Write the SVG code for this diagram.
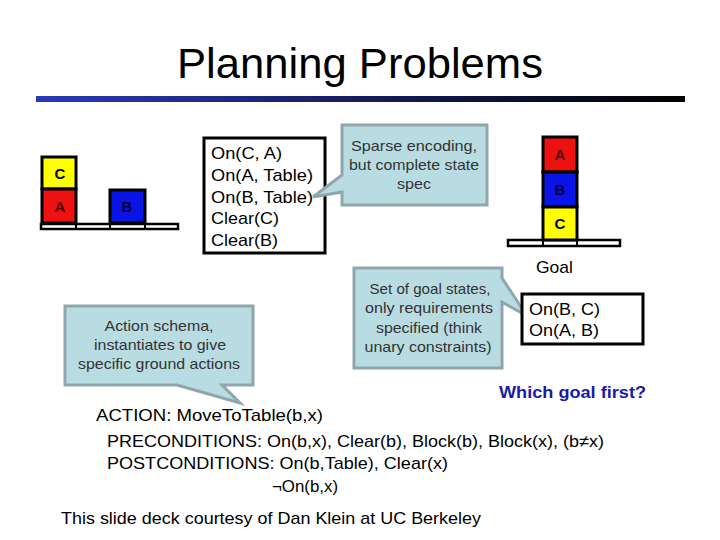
<svg xmlns="http://www.w3.org/2000/svg" width="720" height="540" viewBox="0 0 720 540">
<defs>
<linearGradient id="bar" x1="0" y1="0" x2="1" y2="0">
<stop offset="0" stop-color="#2a3ab8"/>
<stop offset="1" stop-color="#000000"/>
</linearGradient>
<style>
text{font-family:"Liberation Sans",Arial,sans-serif;fill:#000}
.t16{font-size:17px}
.c14{font-size:15px;fill:#333;text-anchor:middle}
.call{fill:#b9dce2;stroke:#8ea6ac;stroke-width:3;stroke-linejoin:miter}
.box{fill:#fff;stroke:#000;stroke-width:3}
.blk{stroke:#000;stroke-width:3}
.lbl{font-size:15px;font-weight:bold;text-anchor:middle}
.tbl{fill:#fff;stroke:#000;stroke-width:2.5}
</style>
</defs>
<rect width="720" height="540" fill="#fff"/>
<g id="title">
<text x="177" y="78" font-size="42" textLength="366" lengthAdjust="spacingAndGlyphs">Planning Problems</text>
<rect x="36" y="96" width="649" height="6" fill="url(#bar)"/>
</g>
<g id="start-state">
<rect class="tbl" x="41" y="224" width="137" height="5"/>
<line x1="76" y1="224" x2="76" y2="229" stroke="#000" stroke-width="2"/>
<line x1="110" y1="224" x2="110" y2="229" stroke="#000" stroke-width="2"/>
<line x1="145" y1="224" x2="145" y2="229" stroke="#000" stroke-width="2"/>
<rect class="blk" x="42" y="157" width="34" height="32" fill="#ffff00"/>
<rect class="blk" x="42" y="189" width="34" height="34" fill="#ee1111"/>
<rect class="blk" x="110" y="190" width="35" height="33" fill="#0a14e6"/>
<text class="lbl" x="60" y="179">C</text>
<text class="lbl" x="60" y="212" style="fill:#4a0000">A</text>
<text class="lbl" x="127" y="212" style="fill:#00003a">B</text>
</g>
<g id="state-box">
<rect class="box" x="204" y="138" width="121" height="115"/>
<text class="t16" x="211" y="159" textLength="71" lengthAdjust="spacingAndGlyphs">On(C, A)</text>
<text class="t16" x="211" y="181" textLength="102" lengthAdjust="spacingAndGlyphs">On(A, Table)</text>
<text class="t16" x="211" y="203" textLength="102" lengthAdjust="spacingAndGlyphs">On(B, Table)</text>
<text class="t16" x="211" y="224" textLength="68" lengthAdjust="spacingAndGlyphs">Clear(C)</text>
<text class="t16" x="211" y="246" textLength="67" lengthAdjust="spacingAndGlyphs">Clear(B)</text>
</g>
<g id="callout-sparse">
<path class="call" d="M342,125 H487 V205 H342 V192 L313,197 L342,175 Z"/>
<text class="c14" x="414" y="151" textLength="126" lengthAdjust="spacingAndGlyphs">Sparse encoding,</text>
<text class="c14" x="414" y="170" textLength="130" lengthAdjust="spacingAndGlyphs">but complete state</text>
<text class="c14" x="414" y="189" textLength="34" lengthAdjust="spacingAndGlyphs">spec</text>
</g>
<g id="goal-state">
<rect class="tbl" x="508" y="240" width="112" height="6"/>
<line x1="543" y1="240" x2="543" y2="246" stroke="#000" stroke-width="2"/>
<line x1="577" y1="240" x2="577" y2="246" stroke="#000" stroke-width="2"/>
<rect class="blk" x="543" y="137" width="34" height="35" fill="#ee1111"/>
<rect class="blk" x="543" y="172" width="34" height="35" fill="#0a14e6"/>
<rect class="blk" x="543" y="207" width="34" height="33" fill="#ffff00"/>
<text class="lbl" x="560" y="160" style="fill:#4a0000">A</text>
<text class="lbl" x="560" y="195" style="fill:#00003a">B</text>
<text class="lbl" x="560" y="229">C</text>
<text class="t16" x="536" y="273" textLength="37" lengthAdjust="spacingAndGlyphs">Goal</text>
</g>
<g id="callout-goal">
<path class="call" d="M354,268 H502 V278 L527,316 L502,302 V368 H354 Z"/>
<text class="c14" x="430" y="294" textLength="121" lengthAdjust="spacingAndGlyphs">Set of goal states,</text>
<text class="c14" x="429" y="313" textLength="128" lengthAdjust="spacingAndGlyphs">only requirements</text>
<text class="c14" x="429" y="333" textLength="106" lengthAdjust="spacingAndGlyphs">specified (think</text>
<text class="c14" x="428" y="352" textLength="127" lengthAdjust="spacingAndGlyphs">unary constraints)</text>
</g>
<g id="goal-box">
<rect class="box" x="522" y="294" width="121" height="50"/>
<text class="t16" x="529" y="315" textLength="71" lengthAdjust="spacingAndGlyphs">On(B, C)</text>
<text class="t16" x="529" y="336" textLength="70" lengthAdjust="spacingAndGlyphs">On(A, B)</text>
</g>
<g id="which-goal">
<text x="499" y="398" font-size="17" font-weight="bold" textLength="147" lengthAdjust="spacingAndGlyphs" style="fill:#1a1aa8">Which goal first?</text>
</g>
<g id="callout-action">
<path class="call" d="M65,306 H253 V385 H222 L240,403 L177,385 H65 Z"/>
<text class="c14" x="159" y="331" textLength="109" lengthAdjust="spacingAndGlyphs">Action schema,</text>
<text class="c14" x="160" y="350" textLength="132" lengthAdjust="spacingAndGlyphs">instantiates to give</text>
<text class="c14" x="159" y="369" textLength="162" lengthAdjust="spacingAndGlyphs">specific ground actions</text>
</g>
<g id="action-text">
<text class="t16" x="96" y="421" textLength="227" lengthAdjust="spacingAndGlyphs">ACTION: MoveToTable(b,x)</text>
<text class="t16" x="107" y="447" textLength="497" lengthAdjust="spacingAndGlyphs">PRECONDITIONS: On(b,x), Clear(b), Block(b), Block(x), (b≠x)</text>
<text class="t16" x="107" y="469" textLength="341" lengthAdjust="spacingAndGlyphs">POSTCONDITIONS: On(b,Table), Clear(x)</text>
<text class="t16" x="272" y="492" textLength="66" lengthAdjust="spacingAndGlyphs">¬On(b,x)</text>
<text class="t16" x="61" y="524" textLength="420" lengthAdjust="spacingAndGlyphs">This slide deck courtesy of Dan Klein at UC Berkeley</text>
</g>
</svg>
